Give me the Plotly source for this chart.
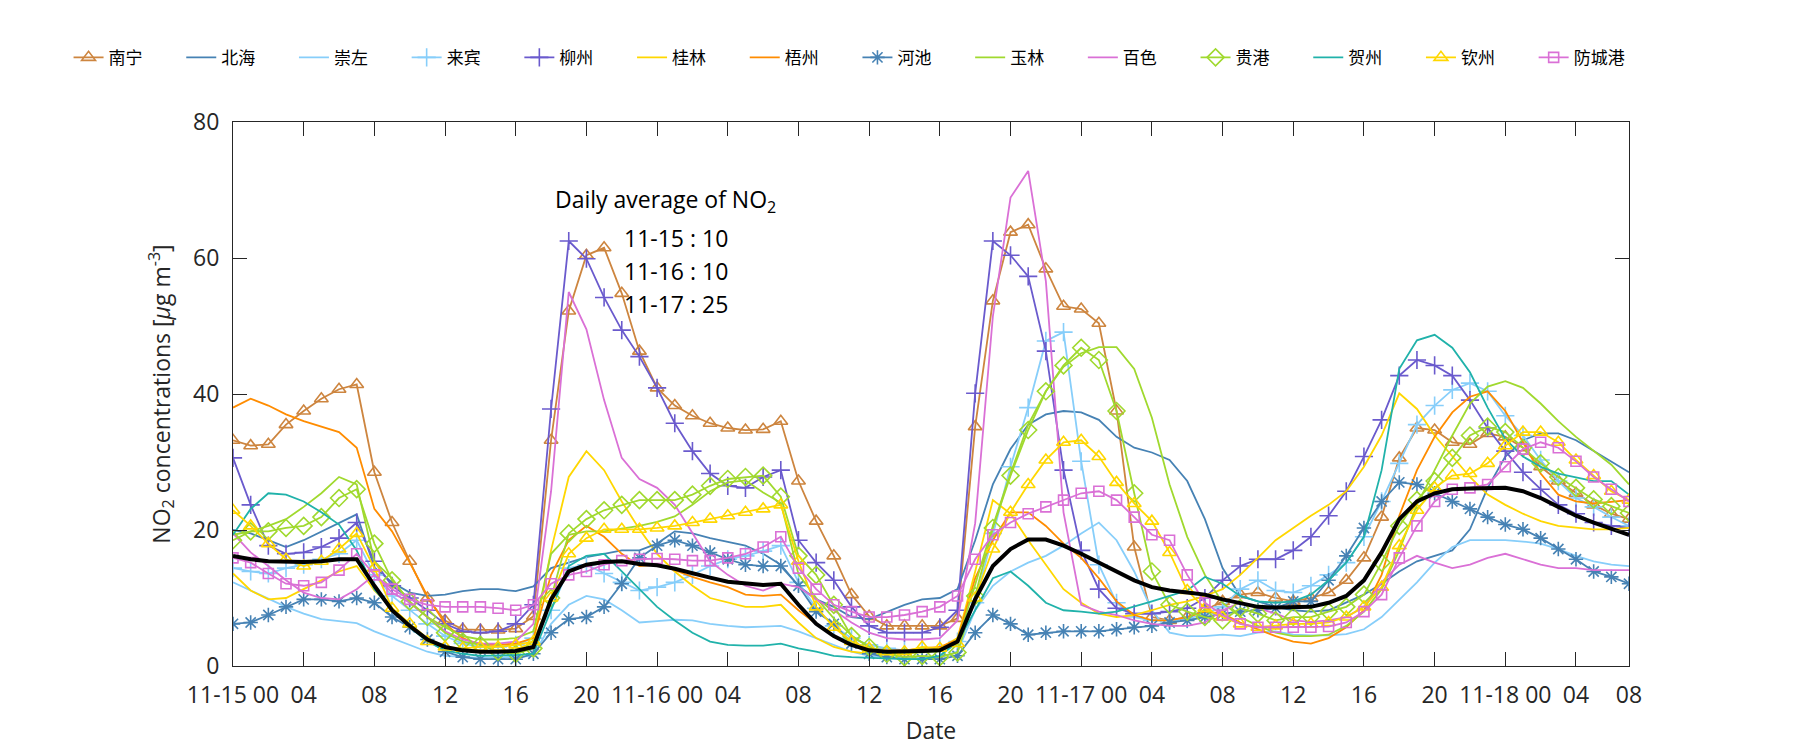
import plotly.graph_objects as go

hours = list(range(80))

tick_vals = [0, 4, 8, 12, 16, 20, 24, 28, 32, 36, 40, 44, 48, 52, 56, 60, 64, 68, 72, 76, 79]
tick_text = ["11-15 00", "04", "08", "12", "16", "20", "11-16 00", "04", "08", "12", "16", "20",
             "11-17 00", "04", "08", "12", "16", "20", "11-18 00", "04", "08"]

nanning = [33.2, 32.4, 32.6, 35.5, 37.5, 39.3, 40.7, 41.4, 28.5, 21.1, 15.4, 10.0, 6.7, 5.4, 5.3, 5.3, 5.5, 7.3, 33.2, 52.2, 60.4,
           61.5, 54.8, 46.3, 40.9, 38.3, 36.8, 35.7, 35.0, 34.7, 34.8, 36.0, 27.2, 21.3, 16.2, 10.5, 7.3, 5.9, 5.9, 5.9,
           5.9, 7.0, 35.2, 53.7, 63.8, 64.9, 58.4, 52.9, 52.5, 50.4, 37.5, 17.5, 7.2, 6.7, 7.2, 8.2, 9.5, 10.5, 10.8, 10.0,
           9.5, 10.0, 10.8, 12.6, 15.9, 21.9, 30.6, 35.0, 34.7, 32.9, 32.6, 34.2, 33.7, 32.1, 29.3, 27.2, 25.4, 23.7, 22.4, 21.6]
beihai = [20.0, 19.5, 18.5, 17.5, 18.5, 19.8, 21.0, 22.3, 14.5, 12.3, 10.8, 10.3, 10.5, 11.0, 11.3, 11.3, 11.0, 11.7, 14.4, 15.2, 16.0,
          16.5, 17.0, 17.0, 18.0, 19.8, 19.5, 18.8, 18.2, 17.7, 16.5, 14.9, 11.8, 9.8, 8.7, 7.2, 6.9, 8.0, 9.0, 9.8,
          10.0, 11.3, 18.5, 26.7, 31.9, 35.5, 37.0, 37.5, 37.3, 36.2, 33.7, 32.1, 31.4, 30.3, 27.2, 21.6, 14.4, 10.3, 9.5, 8.7,
          8.2, 8.0, 8.2, 9.3, 10.5, 12.1, 13.9, 15.4, 16.2, 17.0, 20.1, 26.2, 30.8, 33.2, 34.2, 34.2, 33.2, 31.6, 30.1, 28.5]
chongzuo = [12.3, 11.1, 9.8, 8.7, 7.7, 6.9, 6.6, 6.3, 5.1, 4.1, 3.1, 2.1, 1.5, 1.3, 1.2, 1.2, 1.3, 1.5, 6.2, 9.0, 10.3,
            9.8, 8.2, 6.4, 6.6, 6.8, 6.7, 6.2, 5.9, 5.7, 5.8, 5.9, 5.1, 4.1, 3.1, 2.1, 1.5, 1.3, 1.3, 1.3,
            1.3, 2.1, 8.2, 11.8, 13.9, 15.2, 16.2, 17.7, 19.5, 21.1, 18.5, 13.9, 8.2, 4.9, 4.4, 4.4, 4.6, 4.4, 4.9, 5.1,
            4.6, 4.5, 4.5, 4.7, 5.4, 7.2, 9.8, 12.3, 15.2, 17.5, 18.5, 18.5, 18.5, 18.3, 18.0, 17.2, 16.2, 15.4, 14.9, 14.7]
laibin = [14.4, 13.9, 13.6, 14.4, 14.9, 15.7, 16.5, 18.5, 13.4, 10.3, 8.2, 6.2, 4.4, 3.3, 2.8, 2.8, 3.1, 4.1, 8.2, 14.4, 14.9,
          13.6, 12.3, 11.1, 11.6, 12.3, 13.4, 14.7, 15.7, 16.2, 16.9, 17.7, 12.3, 8.5, 5.9, 4.1, 3.1, 2.6, 2.3, 2.3,
          2.6, 3.6, 9.3, 19.5, 29.3, 38.0, 47.8, 49.1, 30.1, 14.9, 9.3, 7.2, 6.7, 6.7, 6.9, 7.7, 8.7, 11.3, 12.6, 11.1,
          10.8, 11.8, 13.4, 15.2, 19.0, 24.2, 29.8, 35.5, 38.3, 40.6, 41.6, 40.4, 36.8, 33.9, 30.3, 27.2, 24.7, 23.4, 21.9, 20.6]
liuzhou = [30.6, 23.7, 17.7, 16.5, 16.7, 17.5, 18.8, 21.1, 15.4, 11.8, 10.0, 8.2, 6.2, 5.1, 4.9, 5.1, 6.2, 9.0, 37.8, 62.5, 59.9,
           54.2, 49.4, 45.5, 40.9, 35.7, 31.6, 28.3, 26.5, 26.2, 27.8, 28.8, 18.5, 15.2, 12.6, 8.7, 5.9, 4.9, 4.9, 4.9,
           5.7, 8.2, 40.1, 62.5, 60.4, 57.3, 46.3, 28.8, 17.0, 11.3, 8.5, 7.7, 7.7, 8.0, 8.5, 10.0, 12.6, 14.7, 15.7, 15.7,
           17.0, 19.0, 22.1, 25.7, 30.8, 36.2, 42.7, 45.0, 44.2, 42.7, 39.1, 35.0, 31.6, 28.5, 26.0, 23.7, 22.4, 21.1, 20.6, 20.3]
guilin = [13.6, 11.1, 9.8, 10.0, 11.3, 12.6, 13.9, 14.7, 11.1, 8.5, 6.2, 4.1, 2.8, 2.3, 2.1, 2.1, 2.3, 3.6, 17.0, 27.8, 31.6,
          28.8, 24.2, 20.1, 16.5, 13.9, 11.8, 10.0, 9.3, 8.7, 8.7, 9.0, 6.4, 4.1, 2.8, 2.1, 1.8, 1.8, 1.8, 2.1,
          2.6, 4.1, 13.9, 24.4, 22.4, 18.5, 14.9, 11.3, 9.3, 7.7, 7.2, 7.5, 8.2, 9.0, 9.5, 10.3, 11.3, 13.4, 15.9, 18.5,
          20.3, 22.1, 23.7, 25.7, 29.3, 33.9, 40.1, 37.8, 33.9, 30.8, 27.8, 25.2, 23.7, 22.4, 21.3, 20.6, 20.3, 20.1, 20.1, 20.3]
wuzhou = [38.0, 39.3, 38.3, 37.0, 36.0, 35.2, 34.4, 32.1, 23.1, 19.8, 15.2, 10.3, 6.2, 4.1, 3.1, 3.1, 3.3, 4.1, 13.4, 18.5, 20.6,
          19.0, 16.5, 14.7, 14.9, 14.1, 13.1, 12.3, 11.6, 10.5, 10.3, 10.5, 8.2, 6.2, 4.4, 3.1, 2.6, 2.3, 2.3, 2.6,
          2.8, 3.9, 12.9, 18.5, 22.6, 22.6, 20.6, 18.0, 15.9, 12.9, 9.5, 7.5, 6.7, 6.7, 7.2, 8.0, 7.7, 6.4, 5.4, 4.4,
          3.6, 3.3, 4.1, 5.7, 8.2, 13.4, 22.1, 28.8, 33.7, 37.3, 39.6, 40.4, 37.5, 32.9, 28.3, 25.2, 24.2, 23.9, 24.2, 24.4]
hechi = [6.2, 6.4, 7.5, 8.7, 9.8, 9.8, 9.5, 10.0, 9.3, 7.2, 5.7, 3.9, 2.1, 1.3, 1.0, 1.0, 1.0, 1.8, 4.9, 6.9, 7.2,
         8.7, 12.1, 15.9, 17.7, 18.5, 17.7, 16.7, 15.7, 14.9, 14.7, 14.7, 11.8, 8.0, 6.2, 3.3, 1.8, 1.3, 1.0, 1.0,
         1.0, 1.5, 4.9, 7.5, 6.2, 4.6, 4.9, 5.1, 5.1, 5.1, 5.4, 5.7, 5.9, 6.4, 6.7, 7.2, 7.7, 8.0, 8.2, 8.5,
         9.5, 9.5, 12.6, 16.2, 20.3, 24.2, 27.0, 26.7, 25.4, 24.2, 23.1, 21.9, 20.8, 20.1, 18.8, 17.2, 15.7, 13.9, 13.1, 12.1]
yulin = [19.3, 19.8, 20.6, 21.6, 23.4, 25.4, 27.8, 26.7, 15.4, 12.9, 9.3, 7.2, 5.7, 4.4, 3.9, 3.9, 4.1, 5.1, 16.5, 19.3, 19.8,
         19.8, 20.2, 20.6, 21.2, 22.0, 23.7, 25.7, 27.0, 27.3, 25.5, 24.0, 13.5, 10.0, 7.0, 4.5, 2.8, 2.0, 2.0, 2.0,
         2.2, 3.5, 12.0, 20.6, 28.3, 35.5, 40.4, 44.0, 46.0, 46.9, 46.9, 43.7, 36.5, 26.7, 19.0, 13.4, 9.3, 7.2, 5.9, 4.9,
         4.4, 4.4, 4.6, 5.9, 8.0, 11.3, 17.0, 23.7, 28.8, 33.9, 38.6, 41.1, 41.9, 40.9, 38.6, 36.0, 33.7, 31.6, 29.6, 26.7]
baise = [19.5, 16.7, 14.7, 12.6, 10.8, 10.0, 9.8, 11.3, 13.4, 10.8, 9.3, 7.2, 5.1, 3.9, 3.3, 3.3, 3.6, 6.2, 25.7, 55.0, 49.5,
         39.1, 30.6, 27.5, 26.2, 23.7, 19.5, 15.4, 13.4, 11.8, 11.1, 12.1, 11.6, 9.8, 8.2, 6.4, 4.9, 4.1, 3.9, 3.9,
         4.1, 6.7, 21.0, 51.4, 68.9, 72.8, 56.6, 22.6, 9.0, 8.0, 7.5, 6.7, 6.2, 5.9, 5.9, 6.4, 8.2, 9.3, 8.5, 7.7,
         6.7, 6.5, 6.7, 7.2, 8.7, 12.3, 14.9, 16.2, 15.2, 14.4, 14.9, 15.9, 16.5, 15.7, 14.9, 14.4, 14.4, 14.1, 14.1, 14.1]
guigang = [18.5, 19.8, 19.8, 20.3, 20.6, 21.9, 24.7, 26.0, 18.0, 12.6, 9.5, 7.2, 4.9, 3.6, 3.1, 2.1, 1.8, 2.6, 10.0, 19.5, 21.6,
           22.9, 23.7, 24.4, 24.4, 24.4, 25.2, 26.5, 27.5, 27.8, 28.0, 24.9, 16.2, 13.4, 9.0, 4.4, 2.8, 1.8, 1.3, 1.5,
           1.3, 2.0, 10.3, 20.3, 28.0, 34.7, 40.4, 44.2, 46.8, 45.0, 37.5, 25.4, 13.9, 9.0, 8.0, 7.2, 6.7, 8.5, 7.7, 6.7,
           7.2, 7.2, 8.0, 8.7, 10.5, 15.2, 20.6, 24.4, 27.2, 30.6, 33.9, 35.2, 34.4, 32.1, 29.8, 27.8, 26.2, 24.5, 23.5, 22.5]
hezhou = [19.3, 23.1, 25.4, 25.2, 24.2, 22.6, 20.8, 17.0, 11.3, 8.2, 5.7, 3.6, 2.3, 1.8, 1.5, 1.5, 1.6, 1.8, 8.2, 14.7, 16.2,
          16.5, 13.9, 11.3, 8.7, 6.7, 4.9, 3.6, 3.1, 3.0, 3.0, 3.3, 2.6, 2.1, 1.5, 1.3, 1.2, 1.0, 1.0, 1.0,
          1.5, 3.5, 8.2, 12.9, 13.9, 11.8, 9.3, 8.2, 8.0, 7.7, 8.0, 8.7, 9.5, 10.3, 11.1, 13.1, 12.1, 10.3, 9.5, 9.3,
          9.5, 10.5, 12.6, 15.2, 19.0, 28.8, 43.7, 47.9, 48.7, 46.8, 43.2, 38.0, 33.4, 30.8, 29.3, 28.3, 27.8, 27.2, 27.2, 25.2]
qinzhou = [22.9, 20.6, 18.0, 15.7, 14.7, 15.4, 17.2, 19.5, 14.4, 8.5, 6.2, 3.6, 2.8, 2.6, 2.8, 2.8, 3.1, 3.6, 10.0, 16.5, 18.8,
           20.1, 20.1, 20.1, 20.3, 20.6, 21.1, 21.6, 22.1, 22.6, 23.1, 23.7, 15.4, 8.7, 5.7, 3.6, 2.6, 2.1, 2.1, 2.8,
           2.6, 3.3, 10.0, 17.2, 22.6, 26.7, 30.3, 32.9, 33.2, 30.8, 27.0, 23.9, 21.3, 16.7, 11.1, 8.5, 7.2, 6.2, 5.7, 5.9,
           6.2, 6.2, 6.4, 7.2, 8.7, 11.6, 17.7, 22.9, 26.2, 28.0, 28.3, 29.8, 32.4, 34.4, 34.4, 32.9, 30.3, 28.0, 25.7, 24.4]
fangchenggang = [15.9, 15.2, 13.6, 12.1, 11.8, 12.3, 14.1, 16.5, 13.4, 11.3, 9.8, 9.0, 8.7, 8.7, 8.7, 8.5, 8.2, 9.0, 12.1, 13.4, 13.9,
                 14.9, 15.5, 15.7, 15.8, 15.7, 15.5, 15.5, 15.9, 16.5, 17.5, 19.0, 14.4, 11.3, 9.0, 8.0, 7.2, 7.2, 7.5, 8.0,
                 8.7, 10.3, 15.7, 19.3, 21.1, 22.4, 23.4, 24.4, 25.4, 25.7, 24.4, 21.9, 19.3, 18.5, 13.4, 9.3, 7.5, 6.2, 5.7, 5.7,
                 5.7, 5.7, 5.8, 6.4, 8.0, 10.5, 15.9, 20.6, 24.2, 26.0, 26.2, 26.7, 29.3, 31.9, 32.9, 32.1, 30.1, 27.8, 26.0, 24.2]
mean_all = [16.2, 15.7, 15.4, 15.3, 15.3, 15.4, 15.7, 15.7, 11.8, 8.2, 5.9, 3.9, 2.8, 2.3, 2.1, 2.1, 2.2, 2.8, 9.8, 13.9, 14.9,
            15.3, 15.4, 15.0, 14.8, 14.3, 13.6, 13.0, 12.4, 12.1, 11.9, 12.1, 9.0, 6.2, 4.4, 3.1, 2.3, 2.1, 2.1, 2.2,
            2.3, 3.6, 9.8, 14.7, 17.2, 18.6, 18.6, 17.7, 16.5, 15.2, 13.9, 12.6, 11.6, 11.1, 10.8, 10.5, 9.8, 9.3, 8.7, 8.6,
            8.7, 8.7, 9.3, 10.3, 12.6, 16.7, 21.6, 24.2, 25.4, 26.0, 26.1, 26.2, 26.2, 25.7, 24.7, 23.4, 22.1, 21.1, 20.2, 19.3]

names = ["南宁", "北海", "崇左", "来宾", "柳州", "桂林", "梧州", "河池", "玉林", "百色", "贵港", "贺州", "钦州", "防城港"]
series = [nanning, beihai, chongzuo, laibin, liuzhou, guilin, wuzhou, hechi, yulin, baise, guigang, hezhou, qinzhou, fangchenggang]
colors = ["#CD853F", "#4682B4", "#87CEFA", "#87CEFA", "#6A5ACD", "#FFD700", "#FF8C00", "#4682B4",
          "#A0D92E", "#DA70D6", "#A0D92E", "#20B2AA", "#FFD700", "#DA70D6"]
symbols = ["triangle-up-open", None, None, "cross-thin-open", "cross-thin-open", None, None, "asterisk-open",
           None, None, "diamond-open", None, "triangle-up-open", "square-open"]
msizes = [12, 0, 0, 13, 13, 0, 0, 12, 0, 0, 13, 0, 12, 10]

for s in series:
    assert len(s) == 80
assert len(mean_all) == 80

fig = go.Figure()
for nm, ys, c, sym, ms in zip(names, series, colors, symbols, msizes):
    if sym:
        fig.add_trace(go.Scatter(x=hours, y=ys, name=nm, mode="lines+markers",
                                 line=dict(color=c, width=1.8),
                                 marker=dict(symbol=sym, size=ms, color=c, line=dict(color=c, width=1.6))))
    else:
        fig.add_trace(go.Scatter(x=hours, y=ys, name=nm, mode="lines",
                                 line=dict(color=c, width=1.8)))

fig.add_trace(go.Scatter(x=hours, y=mean_all, name="mean", mode="lines", showlegend=False,
                         line=dict(color="black", width=4)))

axis_common = dict(showline=True, linecolor="#262626", linewidth=1, mirror="ticks",
                   ticks="inside", ticklen=14, tickwidth=1, tickcolor="#262626",
                   showgrid=False, zeroline=False, automargin=False,
                   tickfont=dict(family="Open Sans", size=23, color="#262626"))

# page body has an 8px default margin, so the plot area is offset by that amount
fig.update_layout(
    template="none",
    width=1800, height=750,
    paper_bgcolor="white", plot_bgcolor="white",
    margin=dict(l=225, r=179, t=114, b=92, autoexpand=False),
    font=dict(family="Open Sans", color="#262626"),
    xaxis=dict(range=[0, 79], tickvals=tick_vals, ticktext=tick_text,
               title=dict(text="Date", font=dict(family="Open Sans", size=23, color="#262626"), standoff=14),
               ticklabelstandoff=8, **axis_common),
    yaxis=dict(range=[0, 80], tickvals=[0, 20, 40, 60, 80],
               title=dict(text="NO<sub>2</sub> concentrations [<i>μ</i>g m<sup>-3</sup>]",
                          font=dict(family="Open Sans", size=23, color="#262626"), standoff=16),
               ticklabelstandoff=8, **axis_common),
    legend=dict(orientation="h", x=-0.1178, xanchor="left", y=1.118, yanchor="middle",
                font=dict(family="Noto Sans CJK SC", size=17, color="black"),
                entrywidth=67.7, entrywidthmode="pixels", itemwidth=30,
                bgcolor="rgba(0,0,0,0)", borderwidth=0, traceorder="normal"),
)

fig.add_annotation(xref="paper", yref="paper", x=(553 - 233) / 1396, y=(666 - 200) / 544,
                   xanchor="left", yanchor="middle", showarrow=False,
                   text="Daily average of NO<sub>2</sub>",
                   font=dict(family="Open Sans", size=23, color="black"))
for lbl, yc in [("11-15 : 10", 238), ("11-16 : 10", 271), ("11-17 : 25", 304)]:
    fig.add_annotation(xref="paper", yref="paper", x=(622 - 233) / 1396, y=(666 - yc) / 544,
                       xanchor="left", yanchor="middle", showarrow=False, text=lbl,
                       font=dict(family="Open Sans", size=23, color="black"))

fig.write_html("out.html")
